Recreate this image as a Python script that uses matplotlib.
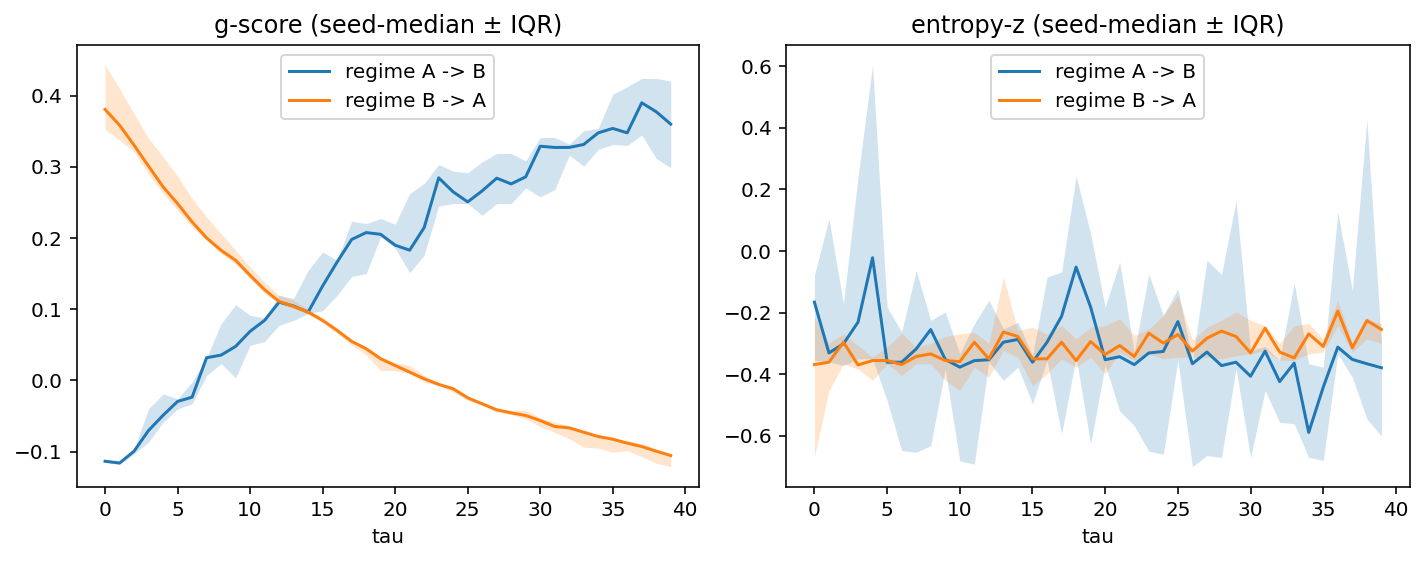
import matplotlib
matplotlib.use("Agg")
import matplotlib.pyplot as plt
import numpy as np

tau = list(range(40))

# g-score
gA_med = [-0.1135, -0.116, -0.0994, -0.0703, -0.049, -0.0295, -0.0235, 0.0319, 0.0356, 0.0478,
          0.069, 0.0844, 0.110, 0.1045, 0.096, 0.1327, 0.1664, 0.198, 0.2077, 0.2053,
          0.19, 0.183, 0.2147, 0.2846, 0.2649, 0.2508, 0.2663, 0.2841, 0.2761, 0.286,
          0.329, 0.3273, 0.3273, 0.3315, 0.3478, 0.354, 0.3478, 0.39, 0.3774, 0.36]
gA_lo = [-0.115, -0.118, -0.103, -0.0867, -0.0586, -0.040, -0.0328, 0.007, 0.0235, 0.0037,
         0.0492, 0.0549, 0.0774, 0.0844, 0.094, 0.098, 0.1195, 0.146, 0.150, 0.2016,
         0.186, 0.1514, 0.1758, 0.245, 0.2485, 0.2485, 0.232, 0.2485, 0.2485, 0.2705,
         0.2578, 0.268, 0.3165, 0.301, 0.3244, 0.3315, 0.330, 0.3446, 0.3118, 0.2986]
gA_hi = [-0.111, -0.114, -0.096, -0.0399, -0.0188, -0.0258, -0.0023, 0.032, 0.0797, 0.1064,
         0.0914, 0.088, 0.1195, 0.115, 0.1547, 0.1805, 0.1688, 0.2236, 0.2204, 0.2274,
         0.2194, 0.2626, 0.2766, 0.3033, 0.294, 0.2916, 0.307, 0.3188, 0.3188, 0.3085,
         0.3413, 0.3413, 0.332, 0.3507, 0.354, 0.402, 0.4125, 0.4243, 0.4243, 0.4205]

gB_med = [0.3807, 0.3586, 0.3305, 0.301, 0.2719, 0.2485, 0.2227, 0.2002, 0.1828, 0.1688,
          0.1477, 0.1275, 0.111, 0.104, 0.096, 0.0844, 0.0703, 0.0549, 0.0445, 0.0305,
          0.021, 0.0117, 0.0023, -0.0056, -0.0117, -0.0244, -0.0328, -0.0412, -0.0455, -0.0492,
          -0.0563, -0.0647, -0.0666, -0.0727, -0.0788, -0.0825, -0.0881, -0.0928, -0.0994, -0.1055]
gB_hi = [0.443, 0.410, 0.375, 0.340, 0.314, 0.287, 0.2555, 0.2297, 0.2063, 0.1828,
         0.1594, 0.138, 0.1195, 0.1125, 0.1008, 0.087, 0.073, 0.057, 0.047, 0.033,
         0.0253, 0.021, 0.007, -0.0023, -0.0094, -0.0234, -0.030, -0.040, -0.042, -0.042,
         -0.0525, -0.0586, -0.0633, -0.0727, -0.0774, -0.082, -0.0844, -0.089, -0.096, -0.103]
gB_lo = [0.3526, 0.3376, 0.321, 0.290, 0.2626, 0.239, 0.2156, 0.197, 0.178, 0.164,
         0.143, 0.122, 0.108, 0.1008, 0.0928, 0.081, 0.066, 0.050, 0.036, 0.014,
         0.014, 0.0094, -0.0023, -0.007, -0.0164, -0.028, -0.035, -0.0445, -0.048, -0.054,
         -0.0647, -0.0727, -0.082, -0.0938, -0.095, -0.1008, -0.0985, -0.107, -0.1163, -0.121]

# entropy-z
eA_med = [-0.166, -0.331, -0.301, -0.231, -0.0217, -0.361, -0.361, -0.318, -0.255, -0.352,
          -0.377, -0.356, -0.353, -0.296, -0.287, -0.361, -0.296, -0.212, -0.052, -0.182,
          -0.353, -0.343, -0.369, -0.331, -0.326, -0.229, -0.366, -0.328, -0.372, -0.361,
          -0.4065, -0.325, -0.424, -0.364, -0.589, -0.442, -0.312, -0.352, -0.366, -0.379]
eA_hi = [-0.079, 0.105, -0.171, 0.2407, 0.604, -0.182, -0.263, -0.063, -0.225, -0.198,
         -0.333, -0.236, -0.16, -0.2526, -0.231, -0.339, -0.0845, -0.068, 0.243, 0.0564,
         -0.182, -0.0357, -0.33, -0.074, -0.209, -0.122, -0.356, -0.03, -0.076, 0.163,
         -0.323, -0.31, -0.355, -0.103, -0.366, -0.377, 0.127, -0.128, 0.427, -0.296]
eA_lo = [-0.355, -0.36, -0.372, -0.35, -0.35, -0.4857, -0.648, -0.654, -0.632, -0.383,
         -0.681, -0.692, -0.36, -0.42, -0.377, -0.496, -0.355, -0.594, -0.345, -0.627,
         -0.37, -0.52, -0.567, -0.65, -0.66, -0.355, -0.70, -0.664, -0.67, -0.382,
         -0.67, -0.453, -0.556, -0.561, -0.67, -0.68, -0.334, -0.41, -0.545, -0.60]

eB_med = [-0.3686, -0.361, -0.296, -0.370, -0.3556, -0.3556, -0.3686, -0.3425, -0.334, -0.3556,
          -0.359, -0.296, -0.350, -0.263, -0.2775, -0.350, -0.350, -0.296, -0.3556, -0.2938,
          -0.336, -0.3068, -0.3425, -0.2667, -0.299, -0.271, -0.325, -0.283, -0.260, -0.2775,
          -0.3306, -0.2504, -0.328, -0.347, -0.2688, -0.310, -0.195, -0.3144, -0.2255, -0.2547]
eB_hi = [-0.215, -0.30, -0.269, -0.307, -0.345, -0.312, -0.267, -0.312, -0.30, -0.278,
         -0.269, -0.264, -0.30, -0.085, -0.258, -0.247, -0.27, -0.242, -0.285, -0.247,
         -0.242, -0.22, -0.274, -0.253, -0.209, -0.144, -0.29, -0.247, -0.225, -0.198,
         -0.225, -0.242, -0.30, -0.242, -0.236, -0.285, -0.16, -0.30, -0.22, -0.236]
eB_lo = [-0.67, -0.453, -0.366, -0.383, -0.42, -0.366, -0.404, -0.366, -0.366, -0.42,
         -0.453, -0.377, -0.41, -0.323, -0.345, -0.437, -0.399, -0.35, -0.377, -0.345,
         -0.399, -0.33, -0.355, -0.334, -0.35, -0.345, -0.345, -0.345, -0.35, -0.34,
         -0.334, -0.323, -0.355, -0.355, -0.334, -0.328, -0.242, -0.328, -0.285, -0.30]

labels = ["regime A -> B", "regime B -> A"]
titles = ["g-score (seed-median \u00b1 IQR)", "entropy-z (seed-median \u00b1 IQR)"]

fig = plt.figure(figsize=(1424 / 144, 561 / 144), dpi=144)
ax1 = fig.add_axes([0.0539, 0.1325, 0.4370, 0.7873])
ax2 = fig.add_axes([0.5520, 0.1325, 0.4380, 0.7873])

panels = [
    (ax1, [(gA_med, gA_lo, gA_hi), (gB_med, gB_lo, gB_hi)]),
    (ax2, [(eA_med, eA_lo, eA_hi), (eB_med, eB_lo, eB_hi)]),
]
colors = ["C0", "C1"]
for (ax, series), title in zip(panels, titles):
    for (med, lo, hi), lab, c in zip(series, labels, colors):
        ax.fill_between(tau, lo, hi, color=c, alpha=0.2, linewidth=0)
        ax.plot(tau, med, color=c, label=lab, linewidth=1.5)
    ax.set_title(title)
    ax.set_xlabel("tau")
    ax.legend(loc="upper center")

fig.savefig("out.png", dpi=144)
